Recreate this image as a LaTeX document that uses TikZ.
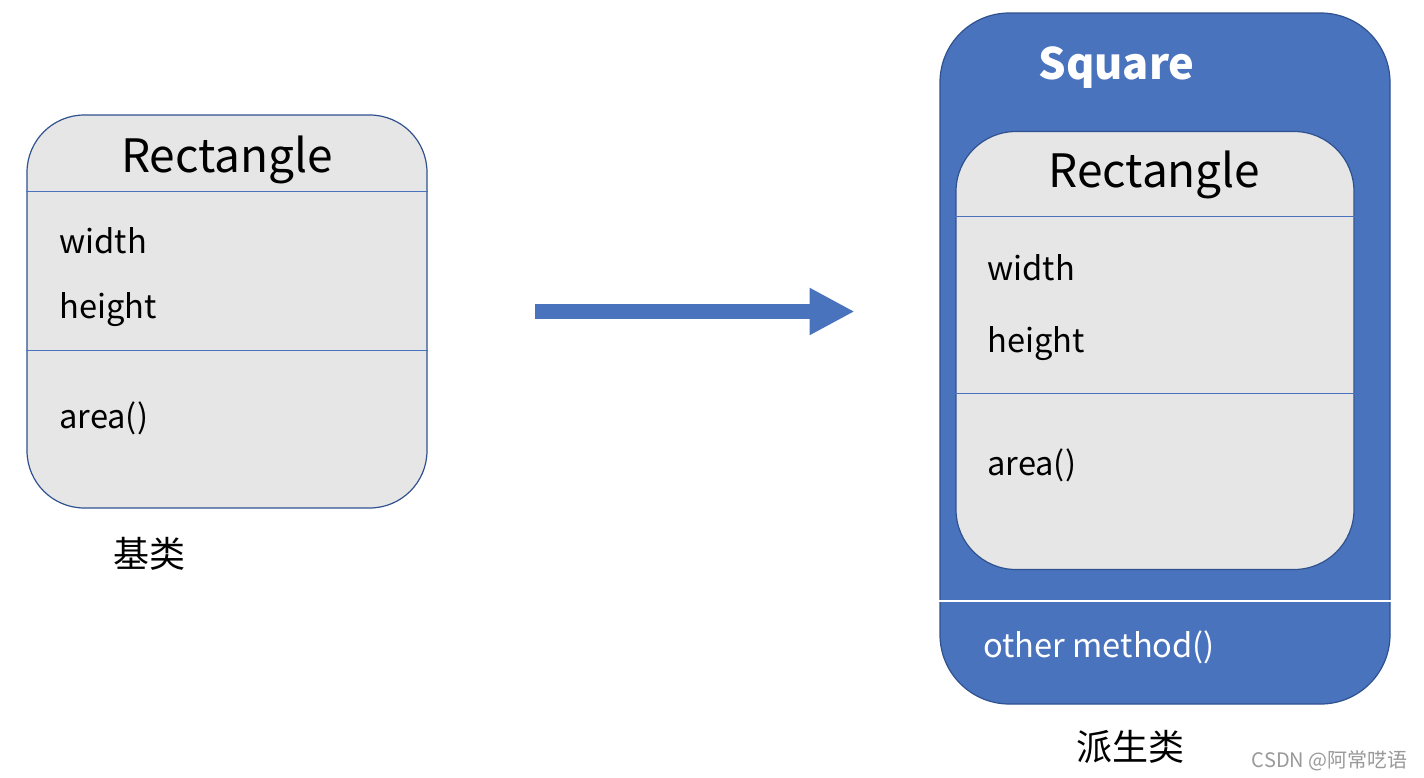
\documentclass[tikz,border=0pt]{standalone}
\usepackage{fontspec}
\setmainfont{Noto Sans CJK SC}
\usetikzlibrary{positioning,arrows.meta}

\definecolor{boxfill}{HTML}{E7E6E6}
\definecolor{boxline}{HTML}{2F528F}
\definecolor{accent}{HTML}{4A73BE}

\tikzset{
  classbox/.style={draw=boxline, line width=0.9pt, fill=boxfill, rectangle, inner sep=0pt},
  sepline/.style={draw=accent, line width=0.6pt},
  member/.style={anchor=base west, inner sep=0pt, font=\fontsize{24.5}{29}\selectfont},
  classtitle/.style={anchor=base, inner sep=0pt, font=\fontsize{34.5}{40}\selectfont},
  caption/.style={inner sep=0pt, font=\fontsize{27}{31}\selectfont},
  bigarrow/.style={draw=accent, line width=11.25pt, -{Triangle[length=33.75pt, width=33pt]}}
}

\begin{document}
\begin{tikzpicture}[x=0.75pt,y=-0.75pt]
\useasboundingbox (0,0) rectangle (1424,778);

% Base class
\node[classbox, rounded corners=43pt, minimum width=300pt, minimum height=294.75pt] (base) at (227,311.5) {};
\draw[sepline] (base.west |- 0,191) -- (base.east |- 0,191);
\draw[sepline] (base.west |- 0,350) -- (base.east |- 0,350);
\node[classtitle] (basetitle) at (227,172) {Rectangle};
\node[member] (basewidth) at (59,253) {width};
\node[member] (baseheight) at (59,318) {height};
\node[member] (basearea) at (59,428) {area()};
\node[caption] (basecap) at (149,553.5) {基类};

% Arrow
\coordinate[right=80.25pt of base] (arrowtail);
\coordinate[right=240pt of arrowtail] (arrowtip);
\draw[bigarrow] (arrowtail) -- (arrowtip);

% Derived class
\node[draw=boxline, line width=0.9pt, fill=accent, rectangle, rounded corners=52pt, minimum width=337.5pt, minimum height=518.25pt] (derived) at (1165,358.5) {};
\node[classbox, rounded corners=45pt, minimum width=298.5pt, minimum height=328.5pt] (inner) at (1155,350.5) {};
\draw[sepline] (inner.west |- 0,216) -- (inner.east |- 0,216);
\draw[sepline] (inner.west |- 0,393) -- (inner.east |- 0,393);
\draw[white, line width=2pt] (derived.west |- 0,601) -- (derived.east |- 0,601);
\node[anchor=base, inner sep=0pt, text=white, font=\fontsize{32.5}{38}\selectfont\bfseries] (squaretitle) at (1116.5,79) {Square};
\node[classtitle] (innertitle) at (1154.5,187) {Rectangle};
\node[member] (innerwidth) at (987,280) {width};
\node[member] (innerheight) at (987,352) {height};
\node[member] (innerarea) at (987,475) {area()};
\node[member, text=white] (othermethod) at (983,657) {other method()};
\node[caption] (derivedcap) at (1130.5,747) {派生类};

% Watermark
\node[anchor=base east, inner sep=0pt, text=black!40, font=\fontsize{15}{18}\selectfont] (mark) at (1408,767) {CSDN @阿常呓语};

\end{tikzpicture}
\end{document}
